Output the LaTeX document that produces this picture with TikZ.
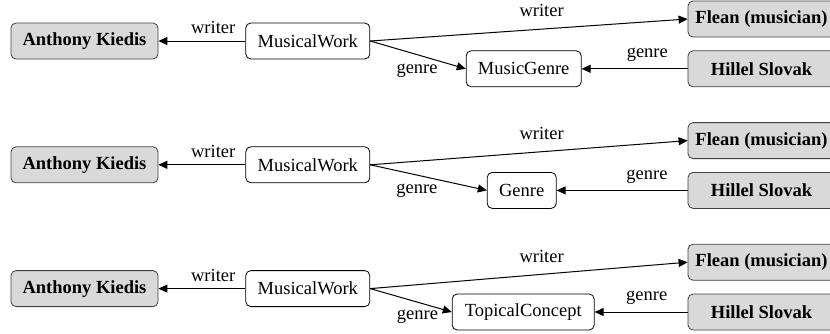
\documentclass[tikz,border=0pt]{standalone}
\usepackage{fontspec}
\setmainfont{Liberation Serif}
\usetikzlibrary{arrows.meta,positioning}
\newcommand\diagfont{\fontsize{9.25}{11}\selectfont}
\tikzset{
  entity/.style={draw=black!75, rounded corners=2.5pt, minimum height=18pt, minimum width=73.5pt, align=center, fill=black!15, font=\diagfont\bfseries},
  ontclass/.style={draw, rounded corners=2.5pt, minimum height=18pt, align=center, fill=white},
  rel/.style={-{Triangle[length=4.5pt,width=4pt]}, line width=0.5pt}
}
\begin{document}
\begin{tikzpicture}[x=0.5pt, y=-0.5pt, font=\diagfont]
  \useasboundingbox (0,0) rectangle (830,333);

  % MusicGenre
  \node[entity] (kiedisA) at (84.5,41) {Anthony Kiedis};
  \node[ontclass, minimum width=62pt, right=43.5pt of kiedisA] (workA) {MusicalWork};
  \node[entity] (fleanA) at (761.5,19) {Flean (musician)};
  \node[entity, below=6.5pt of fleanA] (hillelA) {Hillel Slovak};
  \node[ontclass, minimum width=57.5pt, left=53pt of hillelA] (genreA) {MusicGenre};

  \draw[rel] (workA) -- node[above, pos=0.37] {writer} (kiedisA);
  \draw[rel] (workA.east) -- node[above=2.5pt, pos=0.54] {writer} (fleanA.west);
  \draw[rel] (workA.east) -- node[below=1pt, pos=0.49] {genre} (genreA.west);
  \draw[rel] (hillelA) -- node[above, pos=0.38] {genre} (genreA);

  % Genre
  \node[entity, below=43.5pt of kiedisA] (kiedisB) {Anthony Kiedis};
  \node[ontclass, minimum width=62pt, right=43.5pt of kiedisB] (workB) {MusicalWork};
  \node[entity, below=17.5pt of hillelA] (fleanB) {Flean (musician)};
  \node[entity, below=6.5pt of fleanB] (hillelB) {Hillel Slovak};
  \node[ontclass, minimum width=34.5pt, left=65.5pt of hillelB] (genreB) {Genre};

  \draw[rel] (workB) -- node[above, pos=0.37] {writer} (kiedisB);
  \draw[rel] (workB.east) -- node[above=2.5pt, pos=0.54] {writer} (fleanB.west);
  \draw[rel] (workB.east) -- node[below=1pt, pos=0.40] {genre} (genreB.west);
  \draw[rel] (hillelB) -- node[above, pos=0.31] {genre} (genreB);

  % TopicalConcept
  \node[entity, below=43.5pt of kiedisB] (kiedisC) {Anthony Kiedis};
  \node[ontclass, minimum width=62pt, right=43.5pt of kiedisC] (workC) {MusicalWork};
  \node[entity, below=17.5pt of hillelB] (fleanC) {Flean (musician)};
  \node[entity, below=6.5pt of fleanC] (hillelC) {Hillel Slovak};
  \node[ontclass, minimum width=71pt, left=46.5pt of hillelC] (genreC) {TopicalConcept};

  \draw[rel] (workC) -- node[above, pos=0.37] {writer} (kiedisC);
  \draw[rel] (workC.east) -- node[above=2.5pt, pos=0.54] {writer} (fleanC.west);
  \draw[rel] (workC.east) -- node[below=0.5pt, pos=0.58] {genre} (genreC.west);
  \draw[rel] (hillelC) -- node[above, pos=0.44] {genre} (genreC);
\end{tikzpicture}
\end{document}
